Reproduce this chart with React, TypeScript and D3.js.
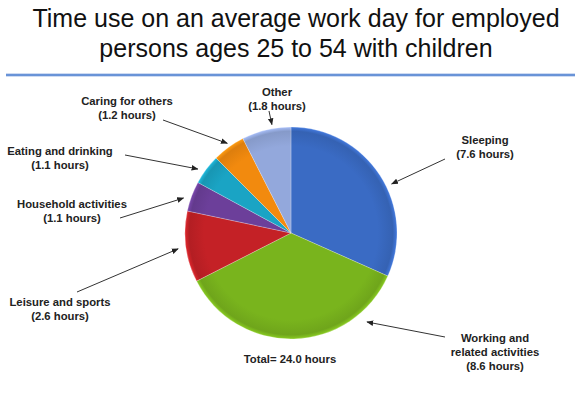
import React from "react";
import * as d3 from "d3";

const categories = [
  "Sleeping",
  "Working and related activities",
  "Leisure and sports",
  "Household activities",
  "Eating and drinking",
  "Caring for others",
  "Other",
];
const hours = [7.6, 8.6, 2.6, 1.1, 1.1, 1.2, 1.8];
const labelLines = [
  ["Sleeping", "(7.6 hours)"],
  ["Working and", "related activities", "(8.6 hours)"],
  ["Leisure and sports", "(2.6 hours)"],
  ["Household activities", "(1.1 hours)"],
  ["Eating and drinking", "(1.1 hours)"],
  ["Caring for others", "(1.2 hours)"],
  ["Other", "(1.8 hours)"],
];
const titleLines = [
  "Time use on an average work day for employed",
  "persons ages 25 to 54 with children",
];
const totalLabel = "Total= 24.0 hours";

// layout (positions / styles)
const W = 575;
const H = 393;
const CX = 291;
const CY = 233;
const R = 106;
const colors = ["#3a6bc4", "#79b41d", "#c42126", "#6c3f9a", "#1aa4c4", "#f28a0e", "#93a8dc"];
// label anchor (center x, first baseline y), arrow start, arrow target angle (deg clockwise from top), target radius
const labelLayout = [
  { x: 485, y: 144, sx: 445, sy: 159, ang: 64, rr: 112 },
  { x: 495, y: 342, sx: 445, sy: 337, ang: 139.5, rr: 117 },
  { x: 60, y: 306, sx: 77, sy: 292, ang: 262, rr: 114 },
  { x: 72, y: 208, sx: 120, sy: 218, ang: 288, rr: 113 },
  { x: 60, y: 155, sx: 125, sy: 155, ang: 304.5, rr: 113 },
  { x: 127, y: 105, sx: 163, sy: 120, ang: 324.6, rr: 110 },
  { x: 277, y: 96, sx: 269, sy: 111, ang: 350, rr: 110 },
];

export default function App() {
  const pie = d3.pie<number>().sort(null).value((d) => d)(hours);
  const arc = d3.arc<d3.PieArcDatum<number>>().innerRadius(0).outerRadius(R);
  const lineH = 14;

  return (
    <svg width={W} height={H} style={{ display: "block", position: "absolute", left: 0, top: 0 }}
      fontFamily="'Liberation Sans', Arial, sans-serif">
      <defs>
        {colors.map((c, i) => {
          const base = d3.color(c)!;
          return (
            <radialGradient key={i} id={`g${i}`} cx={0} cy={0} r={R} gradientUnits="userSpaceOnUse">
              <stop offset="0%" stopColor={c} />
              <stop offset="82%" stopColor={c} />
              <stop offset="96%" stopColor={base.darker(0.25).formatHex()} />
              <stop offset="100%" stopColor={base.brighter(0.35).formatHex()} />
            </radialGradient>
          );
        })}
        <marker id="arrow" viewBox="0 0 10 10" refX="9" refY="5" markerWidth="7" markerHeight="7"
          markerUnits="userSpaceOnUse" orient="auto">
          <path d="M0,1 L10,5 L0,9 Z" fill="#222" />
        </marker>
        <linearGradient id="rule" x1="0" y1="0" x2="0" y2="1">
          <stop offset="0%" stopColor="#9db8e6" />
          <stop offset="50%" stopColor="#4f81d0" />
          <stop offset="100%" stopColor="#9db8e6" />
        </linearGradient>
      </defs>
      <rect width={W} height={H} fill="#fff" />
      {titleLines.map((t, i) => (
        <text key={i} x={296} y={27 + i * 30} textAnchor="middle" fontSize={25} fill="#111">
          {t}
        </text>
      ))}
      <rect x={6} y={73.5} width={569} height={3} fill="url(#rule)" />
      <g transform={`translate(${CX},${CY})`}>
        {pie.map((d, i) => (
          <path key={categories[i]} d={arc(d) || ""} fill={`url(#g${i})`} stroke="#ffffff" strokeOpacity={0.3} strokeWidth={0.8} />
        ))}
      </g>
      {labelLayout.map((l, i) => {
        const a = (l.ang * Math.PI) / 180;
        const ex = CX + l.rr * Math.sin(a);
        const ey = CY - l.rr * Math.cos(a);
        return (
          <g key={i}>
            <line x1={l.sx} y1={l.sy} x2={ex} y2={ey} stroke="#333" strokeWidth={1} markerEnd="url(#arrow)" />
            {labelLines[i].map((s, j) => (
              <text key={j} x={l.x} y={l.y + j * lineH} textAnchor="middle" fontSize={11.3} fontWeight="bold" fill="#222">
                {s}
              </text>
            ))}
          </g>
        );
      })}
      <text x={290} y={363} textAnchor="middle" fontSize={11.3} fontWeight="bold" fill="#222">
        {totalLabel}
      </text>
    </svg>
  );
}
